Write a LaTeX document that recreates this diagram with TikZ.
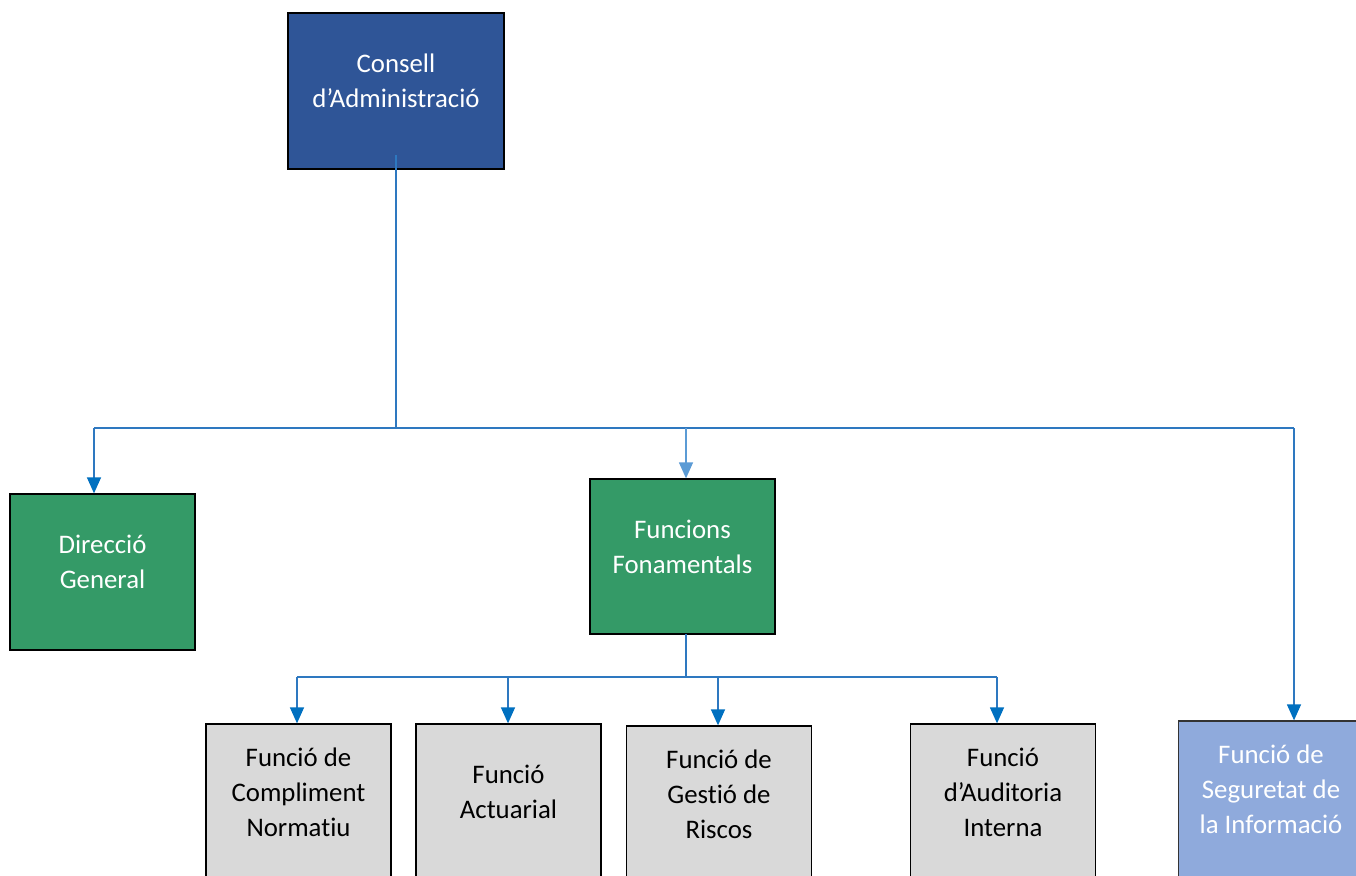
\documentclass[tikz,border=0pt]{standalone}
\usepackage{fontspec}
\setmainfont{Carlito}[Ligatures={NoCommon}]
\usetikzlibrary{arrows.meta}
\definecolor{cblue}{HTML}{2F5597}
\definecolor{cgreen}{HTML}{349A67}
\definecolor{clight}{HTML}{8FAADC}
\definecolor{cgray}{HTML}{D9D9D9}
\definecolor{cline}{HTML}{2E78C0}
\definecolor{carrow}{HTML}{0070C0}
\definecolor{carrowl}{HTML}{5B9BD5}
\tikzset{
  box/.style={draw=black, line width=1.3pt, rectangle, inner sep=0pt, minimum width=185pt, minimum height=156pt},
  txt/.style={align=center, font=\fontsize{26.8pt}{35pt}\selectfont, inner sep=0pt},
  conn/.style={draw=cline, line width=1.4pt},
  arr/.style={conn, -{Triangle[width=14pt,length=16pt,color=carrow]}},
  arrl/.style={conn, draw=carrowl, -{Triangle[width=14pt,length=16pt,color=carrowl]}}
}
\begin{document}
\begin{tikzpicture}[x=1pt,y=-1pt]
\useasboundingbox (0,0) rectangle (1356,875);
\fill[white] (0,0) rectangle (1356,875);
% boxes
\node[box, fill=cblue, minimum width=216pt] (consell) at (396,91) {};
\node[txt, text=white] (consellT) at (396,81) {Consell\\d’Administració};
\node[box, fill=cgreen] (direccio) at (102.5,572) {};
\node[txt, text=white] (direccioT) at (102.5,562) {Direcció\\General};
\node[box, fill=cgreen, minimum height=155pt] (funcions) at (682.5,556.5) {};
\node[txt, text=white] (funcionsT) at (682.5,546.5) {Funcions\\Fonamentals};
\node[box, fill=cgray] (compliment) at (298.5,802) {};
\node[txt] (complimentT) at (298.5,792) {Funció de\\Compliment\\Normatiu};
\node[box, fill=cgray] (actuarial) at (508.5,802) {};
\node[txt] (actuarialT) at (508.5,792) {Funció\\Actuarial};
\node[box, fill=cgray] (gestio) at (719,804) {};
\node[txt] (gestioT) at (719,794) {Funció de\\Gestió de\\Riscos};
\node[box, fill=cgray] (auditoria) at (1003,802) {};
\node[txt] (auditoriaT) at (1003,792) {Funció\\d’Auditoria\\Interna};
\node[box, fill=clight, draw=black!80] (seguretat) at (1271,799) {};
\node[txt, text=white] (seguretatT) at (1271,789) {Funció de\\Seguretat de\\la Informació};
% connector points
\coordinate (trunkTop) at (396,155);
\coordinate (jA) at (396,428);
\coordinate (jL) at (94,428);
\coordinate (jM) at (686,428);
\coordinate (jR) at (1294,428);
\coordinate (fTop) at (686,634);
\coordinate (jB) at (686,677);
\coordinate (b1) at (297,677);
\coordinate (b2) at (508,677);
\coordinate (b3) at (718,677);
\coordinate (b4) at (997,677);
% lines
\draw[conn] (trunkTop) -- (jA);
\draw[conn] (jL) -- (jR);
\draw[conn] (fTop) -- (jB);
\draw[conn] (b1) -- (b4);
\draw[arr] (jL) -- (jL |- direccio.north);
\draw[arrl] (jM) -- (jM |- funcions.north);
\draw[arr] (jR) -- (jR |- seguretat.north);
\draw[arr] (b1) -- (b1 |- compliment.north);
\draw[arr] (b2) -- (b2 |- actuarial.north);
\draw[arr] (b3) -- (b3 |- gestio.north);
\draw[arr] (b4) -- (b4 |- auditoria.north);
\end{tikzpicture}
\end{document}
